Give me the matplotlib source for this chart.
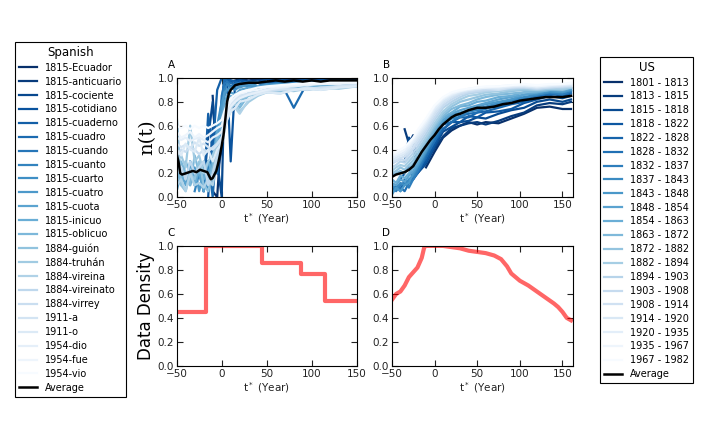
import matplotlib
matplotlib.use('Agg')
import matplotlib.pyplot as plt
import numpy as np

nan = np.nan

# ---- Spanish panel (A) ----
ta = [-50, -45, -40, -35, -30, -25, -20, -15, -10, -5, 0, 3, 6, 10, 15, 20, 30, 40, 50, 65, 80, 95, 110, 130, 150]
spanish_names = ['1815-Ecuador', '1815-anticuario', '1815-cociente', '1815-cotidiano', '1815-cuaderno',
                 '1815-cuadro', '1815-cuando', '1815-cuanto', '1815-cuarto', '1815-cuatro', '1815-cuota',
                 '1815-inicuo', '1815-oblicuo', '1884-guión', '1884-truhán', '1884-vireina',
                 '1884-vireinato', '1884-virrey', '1911-a', '1911-o', '1954-dio', '1954-fue', '1954-vio']
spanish_vals = [
    [nan] * 7 + [0.3, 0.05, 0.0, 0.6, 1.0, 1.0, 0.98, 0.97, 0.99, 0.98, 0.99, 1.0, 0.97, 0.99, 0.98, 0.99, 1.0, 0.99],
    [nan] * 8 + [0.85, 0.2, 0.4, 1.0, 1.0, 0.97, 0.98, 0.99, 0.97, 0.98, 0.99, 0.98, 0.99, 1.0, 0.99, 0.98, 0.99],
    [nan] * 6 + [0.1, 0.5, 0.8, 0.3, 0.0, 0.9, 1.0, 0.96, 0.95, 0.98, 0.97, 0.96, 0.99, 0.98, 0.97, 0.99, 0.98, 0.99, 0.99],
    [nan] * 7 + [0.0, 0.6, 0.2, 0.7, 1.0, 0.99, 0.3, 0.97, 0.98, 0.96, 0.92, 0.95, 0.98, 0.97, 0.96, 0.98, 0.97, 0.98],
    [nan] * 5 + [0.2, 0.05, 0.7, 0.4, 0.9, 1.0, 1.0, 0.99, 0.98, 0.97, 0.95, 0.97, 0.9, 0.96, 0.97, 0.96, 0.98, 0.97, 0.98, 0.97],
    [nan] * 6 + [0.05, 0.3, 0.0, 0.5, 0.8, 1.0, 0.97, 0.96, 0.94, 0.95, 0.97, 0.96, 0.93, 0.97, 0.75, 0.96, 0.97, 0.98, 0.97],
    [nan] * 6 + [0.15, 0.1, 0.4, 0.2, 0.85, 0.95, 0.97, 0.93, 0.95, 0.96, 0.95, 0.97, 0.94, 0.96, 0.95, 0.97, 0.96, 0.95, 0.96],
    [nan] * 4 + [0.05, 0.2, 0.15, 0.3, 0.1, 0.5, 0.7, 0.9, 0.95, 0.92, 0.94, 0.95, 0.93, 0.96, 0.94, 0.95, 0.96, 0.94, 0.95, 0.96, 0.95],
    [nan] * 3 + [0.3, 0.1, 0.2, 0.25, 0.05, 0.3, 0.6, 0.8, 0.85, 0.9, 0.92, 0.9, 0.93, 0.94, 0.92, 0.95, 0.93, 0.94, 0.96, 0.95, 0.94, 0.96],
    [0.3, 0.15, 0.2, 0.1, 0.25, 0.05, 0.2, 0.1, 0.15, 0.4, 0.75, 0.88, 0.9, 0.91, 0.93, 0.92, 0.95, 0.93, 0.94, 0.95, 0.93, 0.95, 0.94, 0.95, 0.95],
    [0.05, 0.2, 0.1, 0.3, 0.15, 0.2, 0.05, 0.2, 0.3, 0.55, 0.65, 0.8, 0.85, 0.88, 0.86, 0.9, 0.92, 0.91, 0.93, 0.92, 0.94, 0.93, 0.94, 0.93, 0.95],
    [0.25, 0.1, 0.3, 0.2, 0.1, 0.25, 0.15, 0.3, 0.2, 0.45, 0.6, 0.75, 0.8, 0.85, 0.83, 0.78, 0.88, 0.9, 0.91, 0.92, 0.9, 0.93, 0.92, 0.94, 0.93],
    [0.15, 0.3, 0.2, 0.1, 0.35, 0.2, 0.3, 0.15, 0.25, 0.5, 0.55, 0.7, 0.78, 0.8, 0.82, 0.75, 0.86, 0.88, 0.9, 0.91, 0.92, 0.91, 0.93, 0.92, 0.94],
    [0.7, 0.1, 0.05, 0.2, 0.15, 0.3, 0.1, 0.05, 0.2, 0.4, 0.5, 0.65, 0.72, 0.78, 0.8, 0.82, 0.85, 0.87, 0.9, 0.89, 0.91, 0.9, 0.92, 0.93, 0.93],
    [0.3, 0.35, 0.25, 0.6, 0.3, 0.35, 0.2, 0.3, 0.35, 0.45, 0.5, 0.6, 0.7, 0.75, 0.78, 0.72, 0.8, 0.85, 0.88, 0.9, 0.89, 0.91, 0.92, 0.91, 0.93],
    [0.1, 0.15, 0.05, 0.2, 0.1, 0.12, 0.08, 0.15, 0.1, 0.3, 0.45, 0.55, 0.65, 0.72, 0.75, 0.7, 0.82, 0.86, 0.88, 0.87, 0.9, 0.91, 0.9, 0.92, 0.93],
    [0.2, 0.25, 0.15, 0.3, 0.2, 0.25, 0.3, 0.1, 0.2, 0.35, 0.5, 0.6, 0.7, 0.78, 0.82, 0.85, 0.87, 0.88, 0.9, 0.91, 0.9, 0.92, 0.91, 0.93, 0.94],
    [0.35, 0.4, 0.38, 0.42, 0.4, 0.36, 0.4, 0.38, 0.42, 0.45, 0.5, 0.58, 0.68, 0.76, 0.8, 0.84, 0.86, 0.87, 0.89, 0.9, 0.91, 0.9, 0.92, 0.93, 0.94],
    [0.45, 0.42, 0.44, 0.41, 0.46, 0.43, 0.45, 0.42, 0.4, 0.44, 0.5, 0.6, 0.7, 0.78, 0.82, 0.85, 0.87, 0.88, 0.9, 0.91, 0.9, 0.92, 0.91, 0.93, 0.94],
    [0.4, 0.35, 0.45, 0.4, 0.38, 0.5, 0.35, 0.4, 0.3, 0.4, 0.45, 0.55, 0.65, 0.72, 0.75, 0.8, 0.82, 0.86, 0.88, 0.87, 0.9, 0.91, 0.9, 0.92, 0.93],
    [0.5, 0.48, 0.5, 0.47, 0.49, 0.5, 0.48, 0.46, 0.5, 0.52, 0.55, 0.62, 0.7, 0.76, 0.8, 0.83, 0.86, 0.88, 0.9, 0.92, 0.93, 0.94, 0.95, 0.95, 0.96],
    [0.55, 0.5, 0.52, 0.55, 0.5, 0.53, 0.5, 0.52, 0.55, 0.58, 0.6, 0.68, 0.75, 0.8, 0.84, 0.87, 0.89, 0.9, 0.92, 0.93, 0.94, 0.95, 0.95, 0.96, 0.96],
    [0.6, 0.58, 0.6, 0.57, 0.6, 0.58, 0.6, 0.58, 0.6, 0.62, 0.65, 0.72, 0.78, 0.83, 0.86, 0.88, 0.9, 0.92, 0.93, 0.94, 0.95, 0.96, 0.96, 0.97, 0.97],
]
ta_avg = [-50, -48, -46, -44, -40, -36, -32, -28, -24, -20, -16, -14, -12, -10, -8, -6, -4, -2, 0, 2, 4, 6, 8, 10,
          15, 20, 30, 40, 50, 60, 70, 80, 90, 100, 110, 120, 130, 140, 150]
spanish_avg = [0.36, 0.3, 0.2, 0.19, 0.2, 0.21, 0.22, 0.21, 0.23, 0.22, 0.21, 0.18, 0.15, 0.16, 0.19, 0.22, 0.28, 0.35,
               0.43, 0.52, 0.65, 0.8, 0.87, 0.9, 0.94, 0.95, 0.96, 0.96, 0.97, 0.98, 0.97, 0.98, 0.97, 0.98, 0.97,
               0.98, 0.98, 0.98, 0.98]

# ---- US panel (B) ----
tb = [-50, -45, -40, -35, -30, -25, -20, -10, 0, 10, 20, 30, 40, 50, 60, 75, 90, 105, 120, 135, 150, 160]
us_names = ['1801 - 1813', '1813 - 1815', '1815 - 1818', '1818 - 1822', '1822 - 1828', '1828 - 1832',
            '1832 - 1837', '1837 - 1843', '1843 - 1848', '1848 - 1854', '1854 - 1863', '1863 - 1872',
            '1872 - 1882', '1882 - 1894', '1894 - 1903', '1903 - 1908', '1908 - 1914', '1914 - 1920',
            '1920 - 1935', '1935 - 1967', '1967 - 1982']
us_vals = [
    [nan, nan, nan, nan, nan, nan, nan, 0.25, 0.38, 0.5, 0.56, 0.6, 0.63, 0.61, 0.63, 0.62, 0.66, 0.7, 0.75, 0.76, 0.74, 0.74],
    [nan, nan, nan, 0.57, 0.45, 0.52, 0.25, 0.3, 0.41, 0.51, 0.58, 0.6, 0.62, 0.63, 0.61, 0.64, 0.68, 0.71, 0.77, 0.79, 0.78, 0.8],
    [nan, nan, nan, 0.3, 0.5, 0.45, 0.2, 0.28, 0.42, 0.55, 0.59, 0.63, 0.64, 0.67, 0.66, 0.7, 0.73, 0.75, 0.8, 0.82, 0.8, 0.82],
    [nan, nan, 0.15, 0.2, 0.25, 0.15, 0.2, 0.3, 0.44, 0.57, 0.63, 0.63, 0.68, 0.67, 0.71, 0.72, 0.74, 0.79, 0.82, 0.85, 0.83, 0.85],
    [nan, 0.1, 0.05, 0.15, 0.12, 0.18, 0.22, 0.33, 0.47, 0.57, 0.63, 0.67, 0.67, 0.71, 0.72, 0.75, 0.78, 0.8, 0.84, 0.87, 0.85, 0.87],
    [0.05, 0.1, 0.08, 0.05, 0.12, 0.15, 0.2, 0.35, 0.47, 0.61, 0.63, 0.68, 0.7, 0.71, 0.75, 0.76, 0.79, 0.83, 0.85, 0.86, 0.87, 0.88],
    [0.08, 0.05, 0.1, 0.12, 0.08, 0.15, 0.22, 0.37, 0.5, 0.61, 0.66, 0.67, 0.72, 0.73, 0.74, 0.78, 0.81, 0.82, 0.87, 0.88, 0.86, 0.89],
    [0.1, 0.07, 0.12, 0.1, 0.15, 0.18, 0.25, 0.38, 0.52, 0.63, 0.66, 0.7, 0.72, 0.74, 0.76, 0.79, 0.82, 0.84, 0.86, 0.88, 0.88, 0.9],
    [0.02, 0.08, 0.05, 0.1, 0.12, 0.2, 0.26, 0.39, 0.54, 0.63, 0.69, 0.71, 0.73, 0.76, 0.78, 0.8, 0.82, 0.86, 0.87, 0.89, 0.88, 0.9],
    [0.12, 0.1, 0.15, 0.13, 0.18, 0.22, 0.28, 0.41, 0.55, 0.65, 0.7, 0.73, 0.75, 0.77, 0.79, 0.82, 0.84, 0.86, 0.88, 0.9, 0.89, 0.91],
    [0.15, 0.12, 0.18, 0.16, 0.2, 0.25, 0.3, 0.44, 0.56, 0.67, 0.71, 0.76, 0.77, 0.8, 0.81, 0.84, 0.85, 0.88, 0.88, 0.9, 0.9, 0.92],
    [0.18, 0.2, 0.22, 0.2, 0.24, 0.28, 0.33, 0.45, 0.58, 0.68, 0.74, 0.77, 0.79, 0.82, 0.84, 0.86, 0.87, 0.88, 0.89, 0.9, 0.91, 0.92],
    [0.2, 0.22, 0.25, 0.23, 0.27, 0.31, 0.36, 0.48, 0.6, 0.7, 0.76, 0.8, 0.82, 0.84, 0.86, 0.87, 0.89, 0.9, 0.9, 0.91, 0.9, 0.92],
    [0.22, 0.25, 0.27, 0.26, 0.3, 0.34, 0.39, 0.5, 0.62, 0.72, 0.78, 0.82, 0.85, 0.86, 0.88, 0.89, 0.9, 0.91, 0.9, 0.91, 0.91, 0.92],
    [0.25, 0.27, 0.3, 0.29, 0.33, 0.37, 0.42, 0.53, 0.65, 0.75, 0.8, 0.84, 0.87, 0.88, 0.89, 0.9, 0.91, 0.92, 0.91, 0.92, 0.92, 0.93],
    [0.28, 0.3, 0.32, 0.31, 0.36, 0.4, 0.45, 0.56, 0.67, 0.77, 0.82, 0.86, 0.88, 0.89, 0.9, 0.91, 0.92, 0.92, 0.91, 0.92, 0.93, 0.93],
    [0.3, 0.31, 0.33, 0.34, 0.38, 0.42, 0.48, 0.58, 0.7, 0.79, 0.84, 0.87, 0.89, 0.9, 0.91, 0.9, 0.92, 0.93, 0.92, 0.93, 0.93, 0.94],
    [0.31, 0.33, 0.35, 0.36, 0.4, 0.45, 0.5, 0.6, 0.72, 0.8, 0.85, 0.88, 0.9, 0.91, 0.92, 0.91, 0.93, 0.93, 0.92, 0.93, 0.94, 0.94],
    [0.33, 0.35, 0.36, 0.38, 0.42, 0.47, 0.52, 0.62, 0.74, 0.82, 0.86, 0.89, 0.9, 0.91, 0.92, 0.92, 0.93, 0.94, 0.93, 0.94, 0.94, 0.95],
    [0.35, 0.36, 0.38, 0.4, 0.44, 0.49, 0.54, 0.64, 0.76, 0.83, 0.87, 0.89, 0.91, 0.92, 0.92, 0.93, 0.94, 0.94, 0.93, 0.94, 0.95, 0.95],
    [0.36, 0.38, 0.4, 0.42, 0.46, 0.5, 0.56, 0.66, 0.77, 0.84, 0.88, 0.9, 0.91, 0.92, 0.93, 0.93, 0.94, 0.95, 0.94, 0.95, 0.95, 0.96],
]
tb_avg = [-50, -45, -40, -35, -30, -25, -20, -15, -10, -5, 0, 5, 10, 15, 20, 25, 30, 40, 50, 60, 70, 80, 90, 100,
          110, 120, 130, 140, 150, 160]
us_avg = [0.17, 0.19, 0.2, 0.21, 0.23, 0.26, 0.32, 0.38, 0.43, 0.48, 0.52, 0.57, 0.61, 0.64, 0.67, 0.69, 0.7, 0.73,
          0.75, 0.75, 0.76, 0.78, 0.79, 0.81, 0.82, 0.83, 0.84, 0.84, 0.84, 0.85]

# ---- Data density (C, D) ----
tc_edges = [-50, -17, 45, 88, 115, 150]
density_c = [0.45, 1.0, 0.86, 0.77, 0.54]
td = [-50, -45, -40, -35, -30, -25, -20, -15, -12, -10, 0, 10, 20, 30, 40, 50, 60, 70, 78, 85, 90, 100, 110, 120,
      130, 140, 145, 150, 155, 160]
density_d = [0.55, 0.6, 0.62, 0.67, 0.74, 0.78, 0.82, 0.9, 0.99, 1.0, 1.0, 1.0, 0.99, 0.98, 0.96, 0.95, 0.94, 0.92,
             0.89, 0.83, 0.77, 0.71, 0.67, 0.62, 0.57, 0.52, 0.49, 0.45, 0.4, 0.38]

plt.rcParams['xtick.direction'] = 'in'
plt.rcParams['ytick.direction'] = 'in'
plt.rcParams['xtick.top'] = True
plt.rcParams['ytick.right'] = True
plt.rcParams['xtick.labelsize'] = 7.5
plt.rcParams['ytick.labelsize'] = 7.5

fig = plt.figure(figsize=(7.01, 4.24), dpi=100)
axA = fig.add_axes([0.252, 0.535, 0.257, 0.281])
axB = fig.add_axes([0.559, 0.535, 0.258, 0.281])
axC = fig.add_axes([0.252, 0.137, 0.257, 0.283])
axD = fig.add_axes([0.559, 0.137, 0.258, 0.283])

sp_colors = plt.cm.Blues(np.linspace(1, 0, len(spanish_names)))
sp_lines = []
for name, vals, c in zip(spanish_names, spanish_vals, sp_colors):
    ln, = axA.plot(ta, vals, color=c, lw=1.6, label=name)
    sp_lines.append(ln)
ln, = axA.plot(ta_avg, spanish_avg, color='black', lw=1.8, label='Average', zorder=5)
sp_lines.append(ln)

us_colors = plt.cm.Blues(np.linspace(1, 0, len(us_names)))
us_lines = []
for name, vals, c in zip(us_names, us_vals, us_colors):
    ln, = axB.plot(tb, vals, color=c, lw=1.6, label=name)
    us_lines.append(ln)
ln, = axB.plot(tb_avg, us_avg, color='black', lw=1.8, label='Average', zorder=5)
us_lines.append(ln)

axC.step(tc_edges, density_c + [density_c[-1]], where='post', color='red', alpha=0.6, lw=3)
axD.plot(td, density_d, color='red', alpha=0.6, lw=3)

for ax, letter in zip([axA, axB, axC, axD], 'ABCD'):
    ax.set_ylim(0, 1)
    ax.set_yticks(np.arange(0, 1.01, 0.2))
    ax.set_yticklabels(['%.1f' % v for v in np.arange(0, 1.01, 0.2)])
    ax.set_xticks([-50, 0, 50, 100, 150])
    ax.tick_params(length=4, pad=2, colors='#222222')
    ax.set_xlabel('t$^*$ (Year)', fontsize=7.5, labelpad=1, color='#222222')
    ax.text(-0.03, 1.11, letter, transform=ax.transAxes, fontsize=7.5, ha='center', va='center')
axA.set_xlim(-50, 150)
axC.set_xlim(-50, 150)
axB.set_xlim(-50, 162)
axD.set_xlim(-50, 162)

axA.set_ylabel('n(t)', fontsize=14, family='DejaVu Serif', labelpad=1)
axC.set_ylabel('Data Density', fontsize=12, labelpad=2)

legA = fig.legend(handles=sp_lines, loc='upper left', bbox_to_anchor=(0.0214, 0.901), borderaxespad=0,
                  title='Spanish', fontsize=7, title_fontsize=8.5, labelspacing=0.4, handlelength=1.9,
                  fancybox=False, edgecolor='black', framealpha=1)
legA.get_frame().set_linewidth(0.8)
legB = fig.legend(handles=us_lines, loc='upper left', bbox_to_anchor=(0.856, 0.866), borderaxespad=0,
                  title='US', fontsize=7, title_fontsize=8.5, labelspacing=0.4, handlelength=1.9,
                  fancybox=False, edgecolor='black', framealpha=1)
legB.get_frame().set_linewidth(0.8)

fig.savefig('out.png', dpi=100)
